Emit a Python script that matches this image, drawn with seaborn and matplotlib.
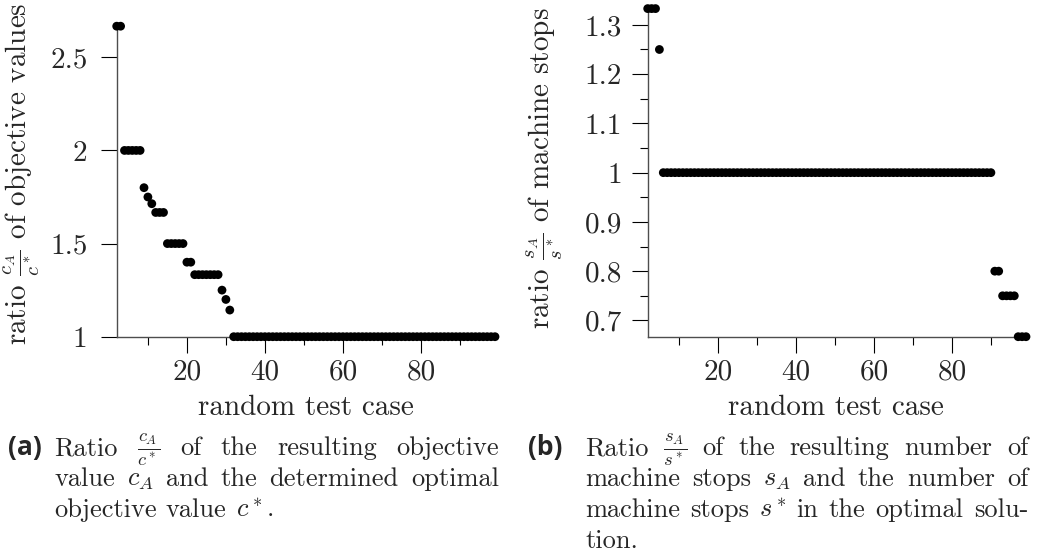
import numpy as np
import matplotlib
matplotlib.use("Agg")
import matplotlib.pyplot as plt
from matplotlib.transforms import IdentityTransform
import seaborn as sns

# ratio c_A / c* (sorted, cases 2..99)
obj_values = [2.667, 2.0, 1.8, 1.75, 1.714, 1.667, 1.5, 1.4, 1.333, 1.25, 1.2, 1.143, 1.0]
obj_counts = [2, 5, 1, 1, 1, 3, 5, 2, 7, 1, 1, 1, 68]

# ratio s_A / s*
stop_values = [1.333, 1.25, 1.0, 0.8, 0.75, 0.667]
stop_counts = [3, 1, 85, 2, 4, 3]

case_numbers = np.arange(2, 100)

x_major = [20, 40, 60, 80]
x_minor = [10, 30, 50, 70, 90]
obj_yticks = [1, 1.5, 2, 2.5]
obj_ylabels = ["1", "1.5", "2", "2.5"]
stop_yticks = [0.7, 0.8, 0.9, 1.0, 1.1, 1.2, 1.3]
stop_ylabels = ["0.7", "0.8", "0.9", "1", "1.1", "1.2", "1.3"]
stop_yminor = [0.75, 0.85, 0.95, 1.05, 1.15, 1.25]

sns.set_theme(style="white")
plt.rcParams["font.family"] = ["cmr10", "DejaVu Serif"]
plt.rcParams["mathtext.fontset"] = "cm"
plt.rcParams["axes.unicode_minus"] = False

W, H = 1037, 556
fig = plt.figure(figsize=(W / 100, H / 100), dpi=100)

def px_axes(x0, x1, ytop, ybot):
    return fig.add_axes([x0 / W, (H - ybot) / H, (x1 - x0) / W, (ybot - ytop) / H])

ax1 = px_axes(116.7, 495.0, 26.2, 336.7)
ax2 = px_axes(647.7, 1026.0, 8.6, 336.7)

df1_y = np.repeat(obj_values, obj_counts)
df2_y = np.repeat(stop_values, stop_counts)

for ax, yy in [(ax1, df1_y), (ax2, df2_y)]:
    sns.scatterplot(x=case_numbers, y=yy, ax=ax, color="black", s=40,
                    edgecolor="none", linewidth=0, clip_on=False, legend=False, zorder=5)
    ax.set_xlim(2, 99)
    ax.set_xticks(x_major)
    ax.set_xticks(x_minor, minor=True)
    ax.set_xticklabels([str(v) for v in x_major])
    for s in ["top", "right"]:
        ax.spines[s].set_visible(False)
    for s in ["left", "bottom"]:
        ax.spines[s].set_color("0.3")
        ax.spines[s].set_linewidth(1.0)
    ax.tick_params(which="major", direction="out", length=11.5, width=0.8, color="black",
                   labelsize=21, bottom=True, left=True)
    ax.tick_params(which="minor", direction="out", length=5.5, width=0.8, color="black",
                   bottom=True, left=True)
    ax.tick_params(axis="x", which="major", pad=5)
    ax.set_xlabel("")
    ax.set_ylabel("")
    ax.patch.set_alpha(0)

ax1.set_ylim(1, 2.667)
ax1.set_yticks(obj_yticks)
ax1.set_yticklabels(obj_ylabels)
ax1.tick_params(axis="y", which="major", pad=9.5)

ax2.set_ylim(0.667, 1.333)
ax2.set_yticks(stop_yticks)
ax2.set_yticklabels(stop_ylabels)
ax2.set_yticks(stop_yminor, minor=True)
ax2.tick_params(axis="y", which="major", pad=7)

px = IdentityTransform()

def txt(x, y, s, **kw):
    return fig.text(x, H - y, s, transform=px, **kw)

# axis labels
txt(306, 415, "random test case", fontsize=21, ha="center", va="baseline")
txt(836, 415, "random test case", fontsize=21, ha="center", va="baseline")
txt(22, 174, r"ratio $\frac{c_A}{c^*}$ of objective values", fontsize=21,
    rotation=90, ha="center", va="center")
txt(545, 168, r"ratio $\frac{s_A}{s^*}$ of machine stops", fontsize=21,
    rotation=90, ha="center", va="center")

# captions
renderer = fig.canvas.get_renderer()
CAP = 19

def caption_line(words, x0, x1, y, justify=True, size=CAP):
    items = [txt(0, y, w, fontsize=size, ha="left", va="baseline") for w in words]
    widths = [t.get_window_extent(renderer).width for t in items]
    if justify and len(items) > 1:
        gap = (x1 - x0 - sum(widths)) / (len(items) - 1)
    else:
        gap = 9.0
    x = x0
    for t, w in zip(items, widths):
        t.set_position((x, H - y))
        x += w + gap

label_font = ["Open Sans", "DejaVu Sans"]
txt(8, 455, "(a)", fontsize=19, fontweight="bold", family=label_font, ha="left", va="baseline")
caption_line(["Ratio", r"$\frac{c_A}{c^*}$", "of", "the", "resulting", "objective"], 54.3, 499, 455)
caption_line(["value", r"$c_A$", "and", "the", "determined", "optimal"], 54.3, 499, 486)
caption_line(["objective", "value", r"$c^*$."], 54.3, 499, 517, justify=False)

txt(528, 455, "(b)", fontsize=19, fontweight="bold", family=label_font, ha="left", va="baseline")
caption_line(["Ratio", r"$\frac{s_A}{s^*}$", "of", "the", "resulting", "number", "of"], 585, 1028, 455)
caption_line(["machine", "stops", r"$s_A$", "and", "the", "number", "of"], 585, 1028, 486)
caption_line(["machine", "stops", r"$s^*$", "in", "the", "optimal", "solu-"], 585, 1028, 517)
caption_line(["tion."], 585, 1028, 548, justify=False)

fig.savefig("out.png", dpi=100)
